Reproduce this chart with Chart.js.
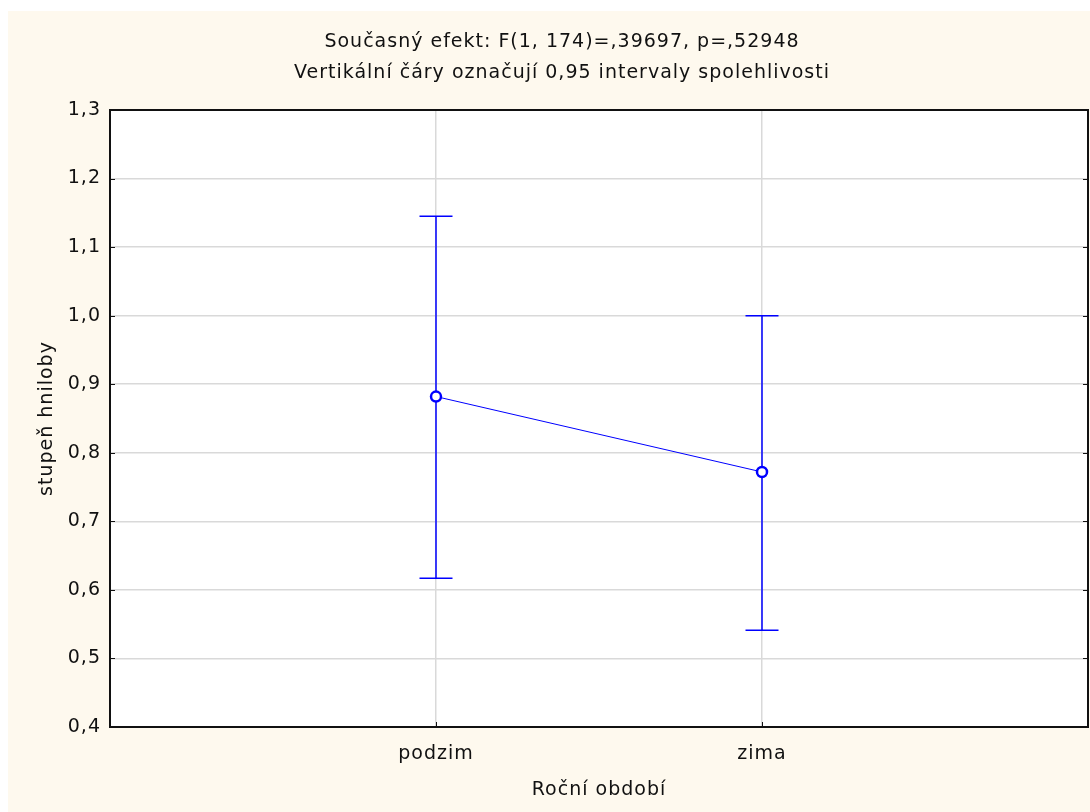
<!DOCTYPE html>
<html>
<head>
<meta charset="utf-8">
<script src="https://cdn.jsdelivr.net/npm/chart.js@4"></script>
<style>
    html, body { margin: 0; background: #ffffff; overflow: hidden; }
    .box {
        position: absolute;
        left: 8px;
        top: 11px;
        width: 1082px;
        height: 801px;
        background: #fef9ee;
    }
    canvas { display: block; }
</style>
</head>
<body>
<div class="box">
    <canvas id="chart" width="1082" height="801"></canvas>
</div>
<script>
/*------Data--------*/

const categories = ['podzim', 'zima'];
const means = [0.882, 0.772];
const ciLow = [0.617, 0.541];
const ciHigh = [1.145, 1.000];
const yTicks = [0.4, 0.5, 0.6, 0.7, 0.8, 0.9, 1.0, 1.1, 1.2, 1.3];

const titleLines = [
    'Současný efekt: F(1, 174)=,39697, p=,52948',
    'Vertikální čáry označují 0,95 intervaly spolehlivosti'
];
const yTitle = 'stupeň hniloby';
const xTitle = 'Roční období';

/*------Wide text like the original--------*/

const spacing = {
    id: 'spacing',
    beforeUpdate: function (chart) { chart.ctx.letterSpacing = '1px'; },
    beforeDraw: function (chart) { chart.ctx.letterSpacing = '1px'; }
};

/*------Plot box: white area, inward ticks, frame--------*/

const plotBox = {
    id: 'plotBox',
    beforeDraw: function (chart) {
        const a = chart.chartArea;
        const ctx = chart.ctx;
        ctx.save();
        ctx.fillStyle = '#ffffff';
        ctx.fillRect(a.left, a.top, a.right - a.left, a.bottom - a.top);
        ctx.restore();
    },
    afterDatasetsDraw: function (chart) {
        const a = chart.chartArea;
        const ctx = chart.ctx;
        ctx.save();
        ctx.strokeStyle = '#111111';
        ctx.lineWidth = 1;
        ctx.beginPath();
        chart.scales.y.ticks.forEach(function (t) {
            const py = Math.round(chart.scales.y.getPixelForValue(t.value)) + 0.5;
            ctx.moveTo(a.left, py);
            ctx.lineTo(a.left + 5, py);
            ctx.moveTo(a.right - 5, py);
            ctx.lineTo(a.right, py);
        });
        chart.scales.x.ticks.forEach(function (t) {
            const px = Math.round(chart.scales.x.getPixelForValue(t.value)) + 0.5;
            ctx.moveTo(px, a.bottom);
            ctx.lineTo(px, a.bottom - 5);
        });
        ctx.stroke();
        ctx.lineWidth = 2;
        ctx.strokeRect(a.left, a.top, a.right - a.left, a.bottom - a.top);
        ctx.restore();
    }
};

/*------Datasets--------*/

const blue = '#0000ff';

const datasets = [{
    label: 'průměr',
    data: categories.map(function (c, i) { return { x: i + 1, y: means[i] }; }),
    borderColor: blue,
    borderWidth: 1,
    pointStyle: 'circle',
    pointRadius: 5,
    pointBorderWidth: 2.5,
    pointBackgroundColor: '#ffffff',
    pointBorderColor: blue
}];

categories.forEach(function (c, i) {
    datasets.push({
        label: c + ' 0,95',
        data: [{ x: i + 1, y: ciLow[i] }, { x: i + 1, y: ciHigh[i] }],
        borderColor: blue,
        borderWidth: 1.5,
        pointStyle: 'line',
        pointRadius: 16.5,
        pointBorderWidth: 1.5,
        pointBorderColor: blue
    });
});

/*------Chart--------*/

Chart.defaults.font.family = '"DejaVu Sans", Verdana, sans-serif';
Chart.defaults.font.size = 19;
Chart.defaults.color = '#111111';

const ctx = document.getElementById('chart').getContext('2d');
const chart = new Chart(ctx, {
    type: 'line',
    data: { datasets: datasets },
    plugins: [spacing, plotBox],
    options: {
        responsive: false,
        animation: false,
        layout: { autoPadding: false, padding: { left: 28, right: 2, top: 0, bottom: 0 } },
        plugins: {
            legend: { display: false },
            tooltip: { enabled: false },
            title: {
                display: true,
                text: titleLines,
                font: { size: 19, weight: 'normal', lineHeight: 31 / 19 },
                color: '#111111',
                padding: { top: 15.5, bottom: 21.5 }
            }
        },
        scales: {
            x: {
                type: 'linear',
                min: 0,
                max: categories.length + 1,
                afterBuildTicks: function (scale) {
                    scale.ticks = categories.map(function (c, i) { return { value: i + 1 }; });
                },
                afterFit: function (scale) {
                    scale.height = 85;
                    scale.paddingLeft = 0;
                    scale.paddingRight = 0;
                },
                grid: { color: '#d9d9d9', lineWidth: 1.5, drawTicks: false },
                border: { display: false },
                ticks: {
                    padding: 16,
                    callback: function (v) { return categories[v - 1]; }
                },
                title: {
                    display: true,
                    text: xTitle,
                    padding: { top: 0, bottom: 11 }
                }
            },
            y: {
                min: yTicks[0],
                max: yTicks[yTicks.length - 1],
                afterBuildTicks: function (scale) {
                    scale.ticks = yTicks.map(function (v) { return { value: v }; });
                },
                afterFit: function (scale) {
                    scale.width = 74;
                    scale.paddingTop = 0;
                    scale.paddingBottom = 0;
                },
                grid: { color: '#d9d9d9', lineWidth: 1.5, drawTicks: false },
                border: { display: false },
                ticks: {
                    padding: 9,
                    callback: function (v) { return v.toFixed(1).replace('.', ','); }
                },
                title: {
                    display: true,
                    text: yTitle,
                    font: { lineHeight: 1 },
                    padding: { top: 1.5, bottom: 0 }
                }
            }
        }
    }
});
</script>
</body>
</html>
